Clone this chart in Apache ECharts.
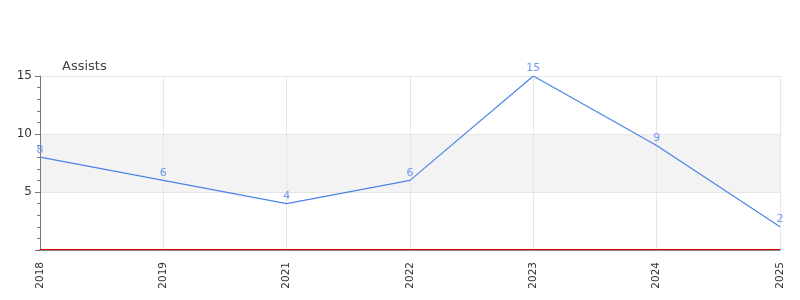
<!DOCTYPE html>
<html><head><meta charset="utf-8">
<script src="https://cdn.jsdelivr.net/npm/echarts@6/dist/echarts.min.js"></script>
<style>html,body{margin:0;padding:0;background:#fff}#c{width:800px;height:300px}</style>
</head><body><div id="c"></div>
<script>
const categories = ['2018','2019','2021','2022','2023','2024','2025'];
const assists = [8, 6, 4, 6, 15, 9, 2];
const yName = 'Assists';
const yMin = 0, yMax = 15, yInterval = 5;

const chart = echarts.init(document.getElementById('c'), null, {renderer:'canvas'});
chart.setOption({
  animation: false,
  textStyle: {fontFamily: 'DejaVu Sans'},
  grid: {left: 40, right: 20, top: 76, bottom: 50, containLabel: false},
  xAxis: {
    type: 'category', data: categories, boundaryGap: false,
    axisLine: {show: true, lineStyle: {color: '#888', width: 1, shadowColor: '#e00000', shadowOffsetY: -1, shadowBlur: 0}},
    axisTick: {show: false},
    axisLabel: {rotate: 90, fontSize: 10.5, color: '#333', margin: 12},
    splitLine: {show: true, lineStyle: {color: '#e6e6e6'}}
  },
  yAxis: {
    type: 'value', min: yMin, max: yMax, interval: yInterval,
    name: yName, nameLocation: 'end', nameGap: 3,
    nameTextStyle: {align: 'left', padding: [0,0,0,22], fontSize: 13, color: '#444'},
    axisLine: {show: true, lineStyle: {color: '#777'}},
    axisTick: {show: true, length: 5, lineStyle: {color: '#777'}},
    minorTick: {show: true, splitNumber: 5, length: 3, lineStyle: {color: '#777'}},
    axisLabel: {showMinLabel: false, fontSize: 12, color: '#333', margin: 8},
    splitLine: {show: true, lineStyle: {color: '#e6e6e6'}},
    splitArea: {show: true, areaStyle: {color: ['rgba(255,255,255,0)', '#f3f3f3']}}
  },
  series: [{
    type: 'line', data: assists, showSymbol: true, symbol: 'circle', symbolSize: 2,
    lineStyle: {color: '#4a84e8', width: 1.2},
    itemStyle: {color: 'rgba(0,0,0,0)', borderWidth: 0},
    label: {show: true, position: 'top', fontSize: 11, color: '#6f97ef', distance: 1}
  }]
});
</script></body></html>
